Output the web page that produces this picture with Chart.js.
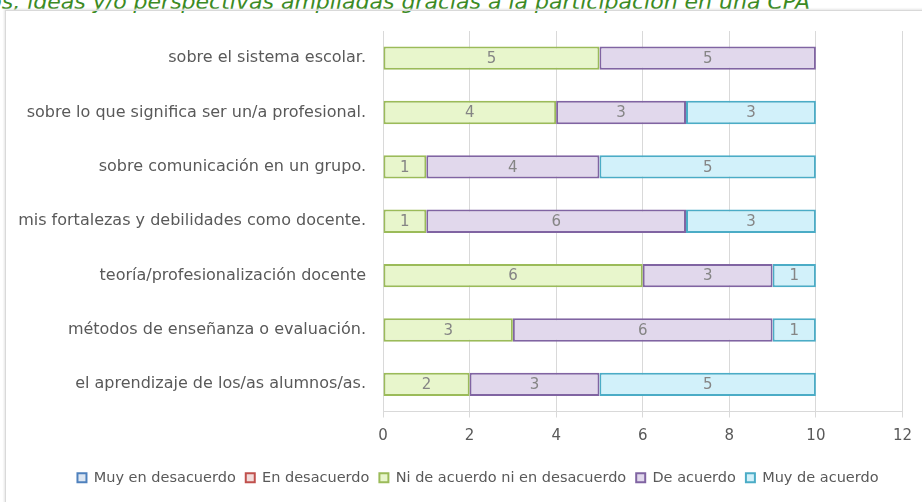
<!DOCTYPE html>
<html>
<head>
<meta charset="utf-8">
<script src="https://cdn.jsdelivr.net/npm/chart.js@4"></script>
<style>
  html, body { margin: 0; padding: 0; background: #fff; overflow: hidden; }
  #titulo {
    position: absolute; left: 0; top: -11px; width: 810px; overflow: hidden;
    white-space: nowrap; text-align: right; direction: rtl;
    font: italic 22px "DejaVu Sans", sans-serif; color: #3b8a23;
  }
  #marco {
    position: absolute; left: 5px; top: 10px; width: 1000px; height: 600px;
    border: 1px solid #d9d9d9; box-shadow: -1px -1px 2px #e6e6e6;
  }
  #wrap { position: absolute; left: 0; top: 0; width: 922px; height: 502px; }
</style>
</head>
<body>
<div id="titulo"><span dir="ltr">Conocimientos, ideas y/o perspectivas ampliadas gracias a la participación en una CPA</span></div>
<div id="marco"></div>
<div id="wrap"><canvas id="grafico"></canvas></div>
<script>
const categorias = [
  "sobre el sistema escolar.",
  "sobre lo que significa ser un/a profesional.",
  "sobre comunicación en un grupo.",
  "mis fortalezas y debilidades como docente.",
  "teoría/profesionalización docente",
  "métodos de enseñanza o evaluación.",
  "el aprendizaje de los/as alumnos/as."
];
const muyDesacuerdo = [0, 0, 0, 0, 0, 0, 0];
const desacuerdo = [0, 0, 0, 0, 0, 0, 0];
const niNi = [5, 4, 1, 1, 6, 3, 2];
const deAcuerdo = [5, 3, 4, 6, 3, 6, 3];
const muyAcuerdo = [0, 3, 5, 3, 1, 1, 5];
const ticksX = [0, 2, 4, 6, 8, 10, 12];

const fuente = "'DejaVu Sans', sans-serif";
const gris = "#595959";

// etiquetas de valor dentro de cada barra
const etiquetas = {
  id: "etiquetas",
  afterLayout(chart) {
    // la leyenda del original queda algo corrida a la derecha
    chart.legend.left += 24;
    chart.legend.right += 24;
  },
  afterDatasetsDraw(chart) {
    const ctx = chart.ctx;
    ctx.save();
    ctx.font = "15px " + fuente;
    ctx.fillStyle = "#858585";
    ctx.textAlign = "center";
    ctx.textBaseline = "middle";
    chart.data.datasets.forEach((ds, i) => {
      const meta = chart.getDatasetMeta(i);
      meta.data.forEach((bar, j) => {
        const v = ds.data[j];
        if (!v) return;
        ctx.fillText(String(v), (bar.x + bar.base) / 2, bar.y + 1);
      });
    });
    ctx.restore();
  }
};

const serie = (label, data, fondo, borde) => ({
  label: label,
  data: data,
  backgroundColor: fondo,
  borderColor: borde,
  borderWidth: 2,
  borderSkipped: false,
  barPercentage: 0.43,
  categoryPercentage: 1
});

const grafico = new Chart(document.querySelector("#grafico"), {
  type: "bar",
  data: {
    labels: categorias,
    datasets: [
      serie("Muy en desacuerdo", muyDesacuerdo, "#dce6f2", "#4f81bd"),
      serie("En desacuerdo", desacuerdo, "#f2dcdb", "#c0504d"),
      serie("Ni de acuerdo ni en desacuerdo", niNi, "#e8f6cc", "#9bbb59"),
      serie("De acuerdo", deAcuerdo, "#e1d8ec", "#8064a2"),
      serie("Muy de acuerdo", muyAcuerdo, "#d2f1fa", "#4bacc6")
    ]
  },
  options: {
    indexAxis: "y",
    responsive: true,
    maintainAspectRatio: false,
    animation: false,
    layout: { padding: { left: 5, top: 31, right: 19, bottom: 7 } },
    scales: {
      x: {
        stacked: true,
        min: 0, max: 12,
        afterBuildTicks: (s) => { s.ticks = ticksX.map(v => ({ value: v })); },
        afterFit: (s) => { s.height = 49; },
        grid: { color: "#d9d9d9", tickLength: 6, drawTicks: true },
        border: { color: "#d9d9d9" },
        ticks: { color: gris, font: { family: fuente, size: 15 }, padding: 10 }
      },
      y: {
        stacked: true,
        afterFit: (s) => { s.width = 378; },
        grid: { display: false },
        border: { color: "#d9d9d9" },
        ticks: { color: gris, font: { family: fuente, size: 16 }, padding: 9 }
      }
    },
    plugins: {
      legend: {
        position: "bottom",
        labels: {
          color: gris,
          font: { family: fuente, size: 14.5 },
          boxWidth: 9, boxHeight: 9,
          padding: 10
        }
      },
      tooltip: { enabled: false }
    }
  },
  plugins: [etiquetas]
});
</script>
</body>
</html>
